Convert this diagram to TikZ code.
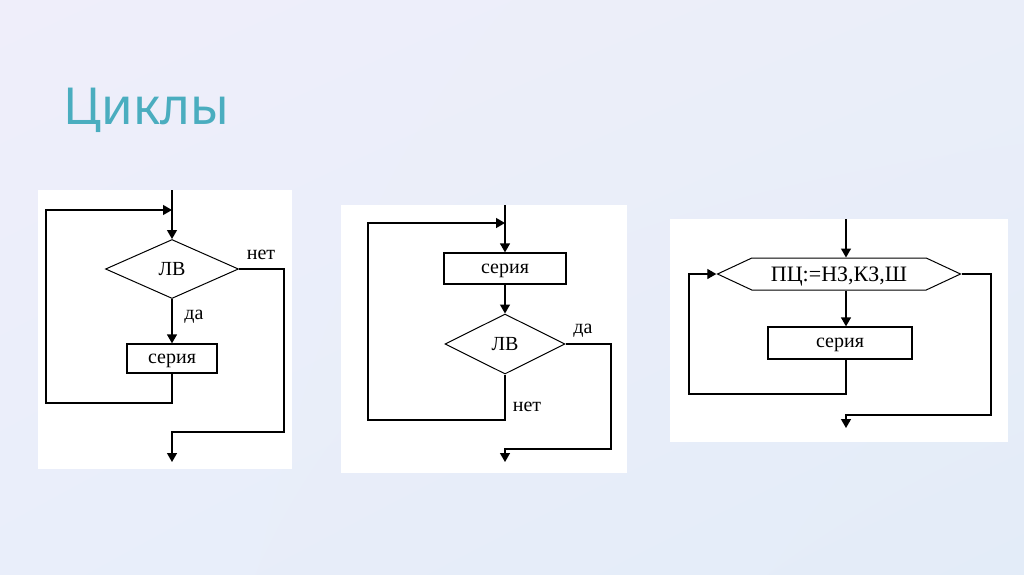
\documentclass[tikz,border=0pt]{standalone}
\usepackage{fontspec}
\setmainfont{Liberation Serif}
\newfontfamily\titlefont{Noto Sans}
\usetikzlibrary{arrows.meta,shapes.geometric,shapes.symbols,shadings}
\definecolor{bgtl}{HTML}{EFEEFA}
\definecolor{bgtr}{HTML}{EAEEF9}
\definecolor{bgbl}{HTML}{E9EEFA}
\definecolor{bgbr}{HTML}{E3ECF8}
\definecolor{titleteal}{HTML}{4AADBF}
\begin{document}
\begin{tikzpicture}[x=1pt, y=-1pt,
	line width=1.3pt,
	arr/.style={-{Triangle[length=9pt,width=10pt]}},
	box/.style={draw, fill=white, inner sep=0pt, text height=9pt, text depth=0pt, font=\fontsize{20}{24}\selectfont},
	cond/.style={draw, diamond, inner sep=0pt, line width=1pt, font=\fontsize{20}{24}\selectfont},
	lbl/.style={inner sep=0pt, font=\fontsize{20}{24}\selectfont},
	panel/.style={fill=white, draw=none}]
	\useasboundingbox (0,0) rectangle (1024,574);
	\shade[upper left=bgtl, upper right=bgtr, lower left=bgbl, lower right=bgbr] (0,0) rectangle (1024,574);
	\node[anchor=base west, inner sep=0pt, text=titleteal, font=\titlefont\fontsize{51}{56}\selectfont] (title) at (63,124) {Циклы};
	% loop with precondition
	\fill[panel] (38,190) rectangle (292,469);
	\coordinate (in1) at (172,190);
	\coordinate (join1) at (172,210);
	\node[cond, minimum width=133pt, minimum height=59pt] (lv1) at (172,269) {ЛВ};
	\node[box, minimum width=90pt, minimum height=29pt] (s1) at (172,358.5) {серия};
	\coordinate (l1) at (46,403);
	\coordinate (r1) at (284,432);
	\coordinate (out1) at (172,462);
	\draw[arr] (in1) -- (lv1.north);
	\draw[arr] (lv1.south) -- (s1.north);
	\draw[arr] (s1.south) |- (l1) |- (join1);
	\draw[arr] (lv1.east) -| (r1) -| (out1);
	\node[lbl] (no1) at (261,255) {нет};
	\node[lbl] (yes1) at (194,317) {да};
	% loop with postcondition
	\fill[panel] (341,205) rectangle (627,473);
	\coordinate (in2) at (505,205);
	\coordinate (join2) at (505,223);
	\node[box, minimum width=122pt, minimum height=31pt] (s2) at (505,268.5) {серия};
	\node[cond, minimum width=120pt, minimum height=60pt] (lv2) at (505,344) {ЛВ};
	\coordinate (l2) at (368,420);
	\coordinate (r2) at (611,449);
	\coordinate (out2) at (505,462);
	\draw[arr] (in2) -- (s2.north);
	\draw[arr] (s2.south) -- (lv2.north);
	\draw[arr] (lv2.south) |- (l2) |- (join2);
	\draw[arr] (lv2.east) -| (r2) -| (out2);
	\node[lbl] (yes2) at (583,331) {да};
	\node[lbl] (no2) at (527,407) {нет};
	% loop with parameter
	\fill[panel] (670,219) rectangle (1008,442);
	\coordinate (in3) at (846,219);
	\node[box, signal, signal to=west and east, signal pointer angle=50,
		minimum width=243pt, minimum height=32pt, line width=1pt,
		text height=14pt, font=\fontsize{22}{26}\selectfont] (hx) at (839,274) {ПЦ:=НЗ,КЗ,Ш};
	\node[box, minimum width=144pt, minimum height=32pt] (s3) at (840,343) {серия};
	\coordinate (l3) at (689,394);
	\coordinate (r3) at (991,415);
	\coordinate (out3) at (846,428);
	\draw[arr] (in3) -- (in3 |- hx.north);
	\draw[arr] (in3 |- hx.south) -- (in3 |- s3.north);
	\draw[arr] (in3 |- s3.south) |- (l3) |- (hx.west);
	\draw[arr] (hx.east) -| (r3) -| (out3);
\end{tikzpicture}
\end{document}
